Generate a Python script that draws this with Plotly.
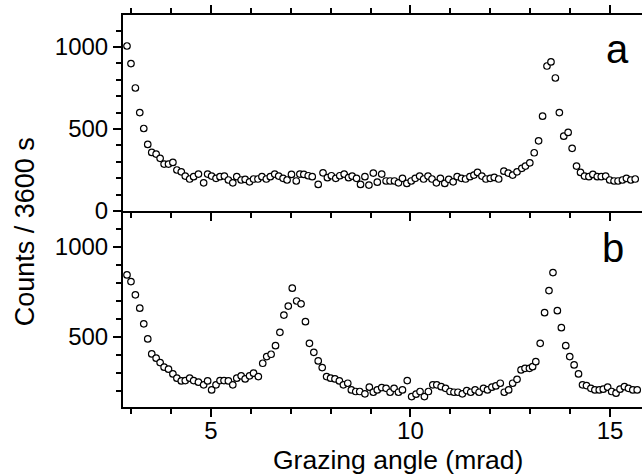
import plotly.graph_objects as go

# ---- data ----
x_a = [2.90, 3.00, 3.11, 3.22, 3.32, 3.42, 3.52, 3.63, 3.73, 3.83, 3.94, 4.05, 4.15, 4.26, 4.36, 4.47,
       4.57, 4.69, 4.82, 4.92, 5.02, 5.13, 5.23, 5.34, 5.44, 5.55, 5.65, 5.76, 5.86, 5.97, 6.07, 6.18,
       6.28, 6.39, 6.49, 6.60, 6.70, 6.81, 6.91, 7.02, 7.14, 7.23, 7.33, 7.44, 7.54, 7.69, 7.81, 7.92,
       8.02, 8.13, 8.23, 8.34, 8.45, 8.54, 8.65, 8.75, 8.86, 8.96, 9.07, 9.17, 9.28, 9.39, 9.49, 9.60,
       9.70, 9.80, 9.91, 10.02, 10.12, 10.23, 10.33, 10.44, 10.54, 10.65, 10.75, 10.86, 10.96, 11.07,
       11.17, 11.28, 11.38, 11.49, 11.59, 11.68, 11.79, 11.89, 12.00, 12.10, 12.21, 12.34, 12.45, 12.56,
       12.67, 12.79, 12.88, 12.99, 13.10, 13.21, 13.31, 13.42, 13.52, 13.63, 13.73, 13.84, 13.95, 14.05,
       14.16, 14.26, 14.36, 14.47, 14.57, 14.68, 14.78, 14.89, 14.99, 15.10, 15.20, 15.31, 15.41, 15.52,
       15.63]
y_a = [1006, 899, 750, 600, 503, 406, 357, 347, 321, 286, 286, 296, 250, 239, 213, 195,
       209, 225, 172, 225, 213, 199, 209, 213, 189, 172, 209, 189, 193, 178, 195, 195,
       209, 195, 209, 225, 213, 199, 189, 223, 183, 225, 223, 215, 209, 162, 233, 203,
       215, 199, 215, 225, 203, 213, 199, 162, 209, 158, 231, 176, 225, 183, 183, 183,
       172, 199, 168, 183, 199, 213, 195, 213, 195, 172, 199, 168, 193, 178,
       209, 199, 195, 209, 219, 235, 213, 195, 199, 205, 195, 243, 231, 219,
       239, 260, 274, 294, 355, 428, 578, 884, 909, 811, 600, 456, 479, 382,
       274, 235, 213, 209, 223, 209, 209, 213, 189, 183, 183, 189, 199, 189,
       195]

x_b = [2.90, 3.00, 3.11, 3.22, 3.32, 3.42, 3.52, 3.63, 3.73, 3.83, 3.94, 4.05, 4.15, 4.26, 4.36, 4.47,
       4.57, 4.69, 4.82, 4.92, 5.02, 5.13, 5.23, 5.33, 5.44, 5.55, 5.65, 5.76, 5.86, 5.97, 6.07, 6.19,
       6.30, 6.40, 6.51, 6.62, 6.73, 6.83, 6.94, 7.04, 7.15, 7.26, 7.37, 7.47, 7.58, 7.69, 7.79, 7.90,
       8.00, 8.11, 8.22, 8.32, 8.43, 8.52, 8.63, 8.73, 8.86, 8.97, 9.07, 9.17, 9.28, 9.39, 9.49, 9.59,
       9.70, 9.80, 9.92, 10.03, 10.14, 10.24, 10.35, 10.45, 10.56, 10.66, 10.77, 10.88, 10.99, 11.09,
       11.19, 11.30, 11.41, 11.51, 11.62, 11.72, 11.83, 11.93, 12.04, 12.14, 12.25, 12.35, 12.46, 12.56,
       12.67, 12.77, 12.87, 12.98, 13.06, 13.14, 13.25, 13.36, 13.47, 13.57, 13.68, 13.78, 13.89, 13.99,
       14.10, 14.21, 14.31, 14.41, 14.52, 14.62, 14.73, 14.83, 14.94, 15.04, 15.15, 15.25, 15.36, 15.46,
       15.57, 15.68]
y_b = [843, 806, 732, 658, 571, 487, 404, 380, 356, 330, 319, 293, 269, 254, 256, 269,
       256, 247, 232, 254, 204, 232, 256, 256, 254, 232, 269, 282, 265, 282, 297, 278,
       352, 389, 402, 450, 524, 620, 670, 769, 698, 682, 583, 463, 413, 365, 328, 278,
       269, 265, 254, 232, 241, 204, 195, 195, 182, 219, 191, 204, 217, 213, 191, 213,
       191, 204, 256, 167, 180, 195, 167, 195, 232, 232, 222, 213, 195, 191,
       191, 182, 200, 191, 204, 191, 213, 204, 219, 226, 241, 191, 204, 241,
       263, 315, 324, 324, 333, 361, 463, 633, 756, 856, 644, 550, 450, 389,
       343, 293, 232, 228, 213, 204, 204, 208, 219, 195, 186, 208, 222, 213,
       204, 204]

x_tickvals = [5, 10, 15]
y_tickvals_a = [0, 500, 1000]
y_tickvals_b = [500, 1000]
panel_labels = ["a", "b"]
x_title = "Grazing angle (mrad)"
y_title = "Counts / 3600 s"

FONT = "Liberation Sans, Arial, Helvetica, sans-serif"

marker = dict(symbol="circle", size=6.5, color="white",
              line=dict(color="black", width=1.2))

fig = go.Figure()
fig.add_trace(go.Scatter(x=x_a, y=y_a, mode="markers", marker=marker,
                         xaxis="x", yaxis="y", showlegend=False, cliponaxis=False))
fig.add_trace(go.Scatter(x=x_b, y=y_b, mode="markers", marker=marker,
                         xaxis="x2", yaxis="y2", showlegend=False, cliponaxis=False))

xrange = [2.8, 15.8]
common_x = dict(range=xrange, showline=True, linecolor="black", linewidth=2,
                ticks="outside", ticklen=8, tickwidth=2, tickcolor="black",
                tickvals=x_tickvals, showgrid=False, zeroline=False,
                minor=dict(dtick=1, tick0=0, ticks="outside", ticklen=5,
                           tickwidth=1.5, tickcolor="black", showgrid=False),
                tickfont=dict(family=FONT, size=24, color="black"))
common_y = dict(showline=True, linecolor="black", linewidth=2,
                ticks="outside", ticklen=8, tickwidth=2, tickcolor="black",
                showgrid=False, zeroline=False,
                minor=dict(dtick=100, tick0=0, ticks="outside", ticklen=5,
                           tickwidth=1.5, tickcolor="black", showgrid=False),
                tickfont=dict(family=FONT, size=24, color="black"),
                ticklabelstandoff=0)

fig.update_layout(
    width=642, height=474,
    margin=dict(l=123, r=0, t=15, b=67),
    paper_bgcolor="white", plot_bgcolor="white",
    xaxis=dict(common_x, anchor="y", domain=[0, 1], mirror="ticks",
               showticklabels=False),
    yaxis=dict(common_y, anchor="x", domain=[0.5, 1], range=[0, 1195],
               tickvals=y_tickvals_a),
    xaxis2=dict(common_x, anchor="y2", domain=[0, 1], showticklabels=True,
                ticklabelstandoff=-7),
    yaxis2=dict(common_y, anchor="x2", domain=[0, 0.5], range=[109, 1198],
                tickvals=y_tickvals_b),
    annotations=[
        dict(text=panel_labels[0], x=0.952, y=0.913, xref="paper", yref="paper",
             xanchor="center", yanchor="middle", showarrow=False,
             font=dict(family=FONT, size=40, color="black")),
        dict(text=panel_labels[1], x=0.944, y=0.4056, xref="paper", yref="paper",
             xanchor="center", yanchor="middle", showarrow=False,
             font=dict(family=FONT, size=40, color="black")),
        dict(text=x_title, x=0.530, y=-0.134, xref="paper", yref="paper",
             xanchor="center", yanchor="middle", showarrow=False,
             font=dict(family=FONT, size=26.5, color="black")),
        dict(text=y_title, x=-0.189, y=0.448, xref="paper", yref="paper",
             xanchor="center", yanchor="middle", showarrow=False, textangle=-90,
             font=dict(family=FONT, size=27, color="black")),
    ],
)

fig.write_html("out.html")
